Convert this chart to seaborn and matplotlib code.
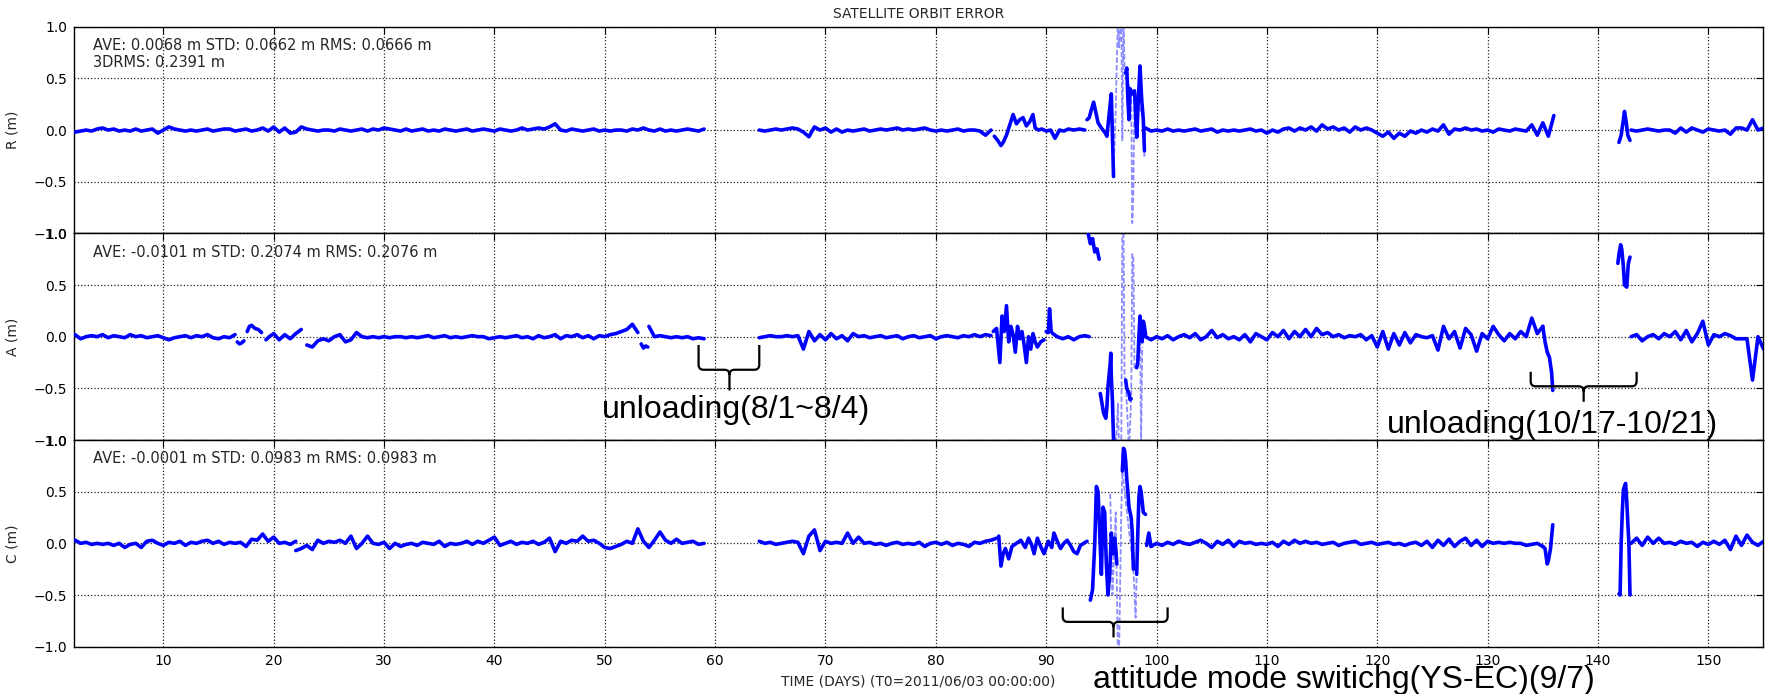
import numpy as np
import pandas as pd
import matplotlib
matplotlib.use("Agg")
import matplotlib.pyplot as plt
import matplotlib.transforms as mtransforms
from matplotlib.path import Path
from matplotlib.patches import PathPatch
import seaborn as sns

sns.set_theme(style="white")
plt.rcParams["font.family"] = ["DejaVu Sans"]
plt.rcParams["axes.unicode_minus"] = True

STEP = 0.5  # sampling step (days) of the regular runs

# ---------------- R component ----------------
R_run1_t0 = 2.0
R_run1 = [-0.02, -0.01, 0.00, -0.01, 0.01, 0.02, 0.00, 0.01, -0.01, 0.00,
          -0.01, 0.01, -0.01, 0.00, 0.01, -0.03, 0.00, 0.03, 0.01, 0.00,
          -0.01, 0.00, -0.01, 0.00, 0.01, -0.01, 0.00, 0.01, 0.01, -0.01,
          0.00, 0.01, -0.01, 0.00, 0.02, -0.01, 0.03, -0.02, 0.02, -0.03,
          -0.02, 0.03, 0.01, 0.00, -0.01, 0.00, 0.00, -0.01, 0.01, 0.00,
          -0.01, 0.00, 0.01, -0.01, 0.01, 0.00, 0.02, 0.01, 0.00, -0.01,
          0.01, -0.01, 0.00, 0.01, -0.01, 0.00, -0.01, 0.01, 0.00, -0.01,
          0.00, 0.01, -0.01, 0.00, 0.01, 0.00, -0.01, 0.01, 0.00, -0.01,
          0.00, 0.02, 0.00, 0.01, 0.02, 0.01, 0.03, 0.06, 0.00, -0.01,
          0.01, 0.00, -0.01, 0.00, 0.01, -0.01, 0.00, -0.01, 0.00, 0.00,
          -0.01, 0.01, 0.00, 0.02, 0.00, -0.01, 0.01, -0.01, 0.00, -0.01,
          0.00, 0.01, 0.00, -0.01, 0.01]
R_run2_t0 = 64.0
R_run2 = [0.00, -0.01, 0.00, 0.01, 0.00, 0.01, 0.02, 0.01, -0.02, -0.065,
          0.03, 0.00, 0.02, -0.02, 0.01, -0.02, 0.00, -0.01, 0.00, 0.01,
          -0.01, 0.00, 0.01, 0.00, 0.01, 0.02, 0.00, 0.01, 0.00, 0.01,
          0.02, 0.00, -0.01, 0.00, -0.01, 0.00, 0.01, -0.01, 0.00, 0.00,
          -0.01, -0.05, 0.00]
R_b1_t = [85.3, 85.6, 85.9, 86.1, 86.4, 86.7, 87.0, 87.3, 87.6, 87.9, 88.2, 88.5, 88.8,
          89.0, 89.3, 89.6, 90.0, 90.4, 90.8, 91.2, 91.6, 92.0, 92.5, 93.0, 93.5]
R_b1_v = [-0.06, -0.10, -0.15, -0.12, -0.05, 0.05, 0.15, 0.06, 0.10, 0.12, 0.04, 0.08, 0.15,
          0.02, 0.00, 0.01, -0.01, 0.00, -0.08, 0.00, -0.01, 0.01, 0.00, 0.01, 0.00]
R_b2_t = [93.7, 93.9, 94.1, 94.3, 94.5, 94.7, 95.0, 95.3, 95.5, 95.7, 95.9, 96.1]
R_b2_v = [0.10, 0.12, 0.20, 0.27, 0.17, 0.07, 0.02, -0.02, -0.06, 0.15, 0.35, -0.45]
R_b3_t = [97.2, 97.3, 97.4, 97.5, 97.6, 97.8, 98.0, 98.2, 98.35, 98.5, 98.65, 98.8, 98.9]
R_b3_v = [0.55, 0.60, 0.30, 0.10, 0.40, 0.35, 0.38, -0.07, 0.30, 0.62, 0.30, 0.10, -0.20]
R_light_t = [96.1, 96.3, 96.5, 96.6, 96.8, 96.9, 97.0, 97.1, 97.2, 97.7, 97.8, 97.9, 98.0,
             98.8, 98.9, 99.0]
R_light_v = [-0.45, 0.20, 1.10, 0.80, 1.10, -0.10, 1.10, 0.60, 0.55, 0.35, -0.90, -0.60, 0.38,
             0.10, -0.25, 0.02]
R_run3_t0 = 99.0
R_run3 = [0.02, -0.01, 0.00, -0.01, 0.01, -0.01, 0.00, -0.01, 0.00, 0.01,
          -0.01, 0.00, 0.01, -0.02, 0.00, -0.01, 0.00, -0.01, 0.00, 0.01,
          -0.01, 0.00, -0.03, 0.00, -0.02, 0.01, 0.02, -0.01, 0.02, 0.00,
          0.03, -0.01, 0.05, 0.01, 0.03, 0.00, 0.02, -0.02, 0.03, 0.00,
          0.02, 0.00, -0.03, -0.06, -0.02, -0.08, -0.03, -0.06, -0.01, -0.03,
          0.00, -0.02, 0.01, -0.01, 0.05, -0.04, 0.01, 0.00, 0.02, 0.00,
          0.01, -0.01, 0.00, -0.02, 0.01, 0.00, -0.01, 0.01, 0.00, -0.01,
          0.05, -0.05, 0.07, -0.06, 0.14]
R_blob_t = [141.9, 142.1, 142.3, 142.4, 142.55, 142.7, 142.9]
R_blob_v = [-0.12, -0.05, 0.10, 0.18, 0.08, -0.05, -0.10]
R_run4_t0 = 143.0
R_run4 = [0.00, -0.01, 0.00, 0.01, 0.00, -0.01, 0.00, 0.00, -0.03, 0.02,
          -0.02, 0.02, 0.00, -0.02, 0.01, 0.00, -0.01, 0.00, -0.04, 0.02,
          0.02, 0.00, 0.10, 0.00, 0.02]

# ---------------- A component ----------------
A_run1_t0 = 2.0
A_run1 = [0.02, -0.02, 0.00, 0.01, 0.00, 0.02, -0.01, 0.01, 0.00, -0.01,
          0.02, 0.00, 0.01, -0.01, 0.00, 0.01, -0.01, -0.03, -0.01, 0.00,
          0.01, -0.01, 0.01, 0.00, 0.02, -0.01, -0.02, 0.00, -0.01, 0.02]
A_s1_t = [16.7, 16.9, 17.1, 17.3]
A_s1_v = [-0.05, -0.07, -0.06, -0.04]
A_s2_t = [17.6, 17.8, 18.0, 18.3, 18.6, 18.9]
A_s2_v = [0.05, 0.10, 0.11, 0.08, 0.07, 0.04]
A_s3_t = [19.3, 19.6, 20.0, 20.5, 21.0, 21.5, 22.0, 22.5]
A_s3_v = [-0.03, 0.00, 0.03, -0.03, 0.02, -0.02, 0.03, 0.07]
A_run2_t0 = 23.0
A_run2 = [-0.08, -0.10, -0.04, -0.02, -0.04, 0.00, 0.02, -0.05, -0.03, 0.04,
          0.00, -0.01, 0.00, -0.01, 0.00, -0.01, 0.00, 0.00, -0.01, 0.00,
          -0.01, 0.00, 0.01, -0.01, 0.00, 0.01, -0.01, 0.00, -0.01, 0.00,
          0.01, 0.00, 0.00, -0.02, -0.01, 0.00, -0.01, 0.00, 0.01, -0.01,
          0.00, -0.02, 0.01, -0.01, 0.00, 0.02, -0.02, 0.01, 0.00, 0.02,
          -0.01, 0.01, -0.02, 0.01, 0.00, 0.02, 0.03, 0.05, 0.07, 0.12,
          0.04]
A_s4_t = [53.3, 53.5, 53.7, 53.9]
A_s4_v = [-0.07, -0.11, -0.09, -0.10]
A_run3_t0 = 54.0
A_run3 = [0.10, 0.00, 0.01, 0.00, -0.01, 0.00, -0.01, 0.00, -0.02, -0.01, -0.02]
A_run4_t0 = 64.0
A_run4 = [-0.01, 0.00, 0.01, 0.00, 0.00, 0.01, 0.00, 0.01, -0.12, 0.05,
          -0.04, 0.02, -0.03, 0.03, -0.02, 0.01, -0.04, 0.03, 0.00, 0.01,
          -0.01, 0.00, 0.01, -0.01, 0.00, 0.01, -0.02, 0.00, 0.01, -0.01,
          0.00, 0.01, -0.02, 0.00, 0.01, 0.00, -0.01, 0.01, 0.00, 0.02,
          0.00, 0.02, 0.01]
A_b1_t = [85.2, 85.5, 85.8, 86.0, 86.2, 86.4, 86.6, 86.8, 87.0, 87.2, 87.4, 87.6, 87.8,
          88.0, 88.2, 88.4, 88.6, 88.8, 89.0, 89.2, 89.5, 89.8]
A_b1_v = [0.05, 0.08, -0.25, 0.20, 0.05, 0.30, -0.05, 0.10, 0.02, -0.15, 0.10, -0.02, 0.05,
          -0.08, -0.25, 0.00, -0.12, 0.03, -0.05, -0.10, -0.05, -0.03]
A_s5_t = [90.0, 90.2, 90.3, 90.45, 90.6, 91.0, 91.5, 92.0, 92.5, 93.0, 93.5, 93.9]
A_s5_v = [0.05, 0.04, 0.27, 0.05, 0.03, 0.00, -0.02, 0.00, -0.03, 0.00, 0.01, 0.00]
A_top_t = [93.8, 94.0, 94.2, 94.4, 94.6, 94.8]
A_top_v = [1.00, 0.90, 0.95, 0.82, 0.85, 0.75]
A_d1_t = [94.9, 95.0, 95.2, 95.4, 95.5, 95.6, 95.8, 95.85, 95.9, 96.0, 96.1]
A_d1_v = [-0.55, -0.61, -0.74, -0.79, -0.68, -0.48, -0.26, -0.16, -0.39, -0.61, -1.00]
A_d2_t = [97.2, 97.3, 97.5, 97.6, 97.7]
A_d2_v = [-0.42, -0.50, -0.55, -0.61, -0.60]
A_d3_t = [98.2, 98.3, 98.4, 98.5, 98.6, 98.7, 98.8, 98.9, 99.0]
A_d3_v = [-0.30, -0.25, 0.00, 0.20, 0.05, -0.05, 0.15, 0.10, 0.02]
A_light_t = [96.2, 96.3, 96.5, 96.6, 96.8, 96.9, 97.0, 97.1, 97.2, 97.5, 97.7, 97.8, 97.9,
             98.0, 98.2, 98.5, 98.6, 98.7]
A_light_v = [-0.95, -1.10, -0.65, -1.10, -1.10, 1.10, 1.10, -0.40, -0.42, -1.10, -0.60, 0.80,
             0.75, -0.30, -0.30, 0.20, -1.10, -0.10]
A_run5_t0 = 99.0
A_run5 = [0.00, -0.03, 0.00, -0.02, 0.01, -0.03, 0.00, 0.02, -0.01, 0.03,
          -0.03, 0.00, 0.06, -0.01, 0.02, -0.02, 0.00, -0.03, 0.02, -0.05,
          0.03, 0.00, -0.03, 0.04, 0.00, 0.06, -0.02, 0.05, 0.00, 0.07,
          0.00, 0.08, 0.02, 0.04, 0.00, 0.02, -0.01, 0.01, 0.00, 0.02,
          -0.03, 0.01, -0.10, 0.05, -0.12, 0.03, -0.08, 0.04, -0.06, 0.02,
          0.00, -0.01, 0.01, -0.13, 0.10, -0.02, 0.05, -0.11, 0.08, 0.02,
          -0.14, 0.03, -0.02, 0.10, 0.02, -0.04, 0.03, -0.02, 0.05, 0.00,
          0.18, 0.03, 0.10]
A_drop_t = [135.0, 135.2, 135.4, 135.6, 135.8, 135.9]
A_drop_v = [0.10, -0.05, -0.15, -0.20, -0.35, -0.52]
A_blob_t = [141.8, 141.9, 142.05, 142.15, 142.3, 142.4, 142.6, 142.75, 142.9]
A_blob_v = [0.71, 0.80, 0.89, 0.85, 0.68, 0.50, 0.48, 0.71, 0.77]
A_run6_t0 = 143.0
A_run6 = [0.00, 0.02, -0.04, 0.00, 0.02, -0.02, 0.03, 0.00, 0.05, -0.03,
          0.06, -0.05, 0.03, 0.15, -0.08, 0.02, 0.00, 0.03, 0.01, -0.02,
          -0.02, -0.02, -0.42, 0.00, -0.12]

# ---------------- C component ----------------
C_run1_t0 = 2.0
C_run1 = [0.03, 0.00, 0.01, -0.01, 0.00, -0.01, 0.00, -0.02, 0.00, -0.04,
          -0.01, 0.00, -0.04, 0.02, 0.03, 0.00, -0.02, 0.01, 0.00, 0.02,
          -0.02, 0.01, 0.00, 0.02, 0.03, 0.00, 0.02, -0.01, 0.01, 0.00,
          0.01, -0.03, 0.04, 0.03, 0.09, 0.02, 0.06, 0.00, 0.01, -0.01,
          0.02]
C_run2_t0 = 22.0
C_run2 = [-0.07, -0.05, -0.02, -0.06, 0.03, 0.00, 0.02, 0.01, 0.03, 0.00,
          0.07, -0.05, 0.00, 0.07, 0.00, -0.01, 0.01, -0.05, 0.00, -0.03,
          -0.01, 0.00, -0.02, 0.01, 0.00, -0.01, 0.02, -0.03, 0.00, -0.01,
          0.00, 0.02, -0.01, 0.02, 0.00, 0.03, 0.06, -0.02, 0.00, 0.02,
          -0.01, 0.01, 0.00, 0.02, -0.01, 0.01, 0.05, -0.08, 0.02, 0.00,
          0.03, 0.02, 0.07, 0.02, 0.03, 0.00, -0.04, -0.05, -0.03, -0.01,
          0.02, 0.00, 0.14, 0.02, -0.04, 0.03, 0.11, 0.03, 0.00, 0.04,
          0.00, 0.01, 0.02, -0.01, 0.00]
C_run3_t0 = 64.0
C_run3 = [0.02, 0.00, 0.01, -0.01, 0.00, 0.01, 0.02, 0.01, -0.10, 0.07,
          0.13, -0.07, 0.02, 0.00, 0.01, 0.00, 0.10, 0.00, 0.06, 0.00,
          0.01, -0.01, 0.00, -0.02, 0.00, 0.01, -0.01, 0.00, -0.01, 0.01,
          -0.03, 0.00, 0.01, -0.01, 0.01, -0.02, 0.00, -0.01, -0.03, 0.01,
          0.00, 0.02, 0.03, 0.05]
C_b1_t = [85.7, 85.9, 86.1, 86.3, 86.6, 86.9, 87.3, 87.7, 88.1, 88.4, 88.7, 88.9, 89.2,
          89.5, 89.8, 90.2, 90.5, 90.7, 91.0, 91.3, 91.6, 91.9, 92.2, 92.5, 92.8, 93.1,
          93.4, 93.7]
C_b1_v = [0.07, -0.22, -0.10, -0.05, -0.15, -0.03, 0.00, 0.03, -0.04, 0.05, -0.02, -0.10,
          0.05, -0.03, -0.10, 0.02, -0.04, 0.10, 0.02, -0.05, 0.00, 0.03, -0.02, -0.08,
          -0.10, -0.02, 0.00, 0.02]
C_d1_t = [94.0, 94.1, 94.2, 94.4, 94.55, 94.7, 94.85, 95.0, 95.15, 95.3, 95.45, 95.6,
          95.75, 95.9, 96.05, 96.2, 96.3, 96.4]
C_d1_v = [-0.55, -0.50, -0.45, 0.00, 0.55, 0.50, 0.10, -0.30, 0.35, 0.30, -0.20, -0.50,
          -0.30, 0.10, -0.10, 0.05, -0.05, -0.20]
C_d2_t = [96.9, 97.0, 97.1, 97.2, 97.3, 97.4, 97.5, 97.6, 97.7, 97.8, 97.9]
C_d2_v = [0.70, 0.92, 0.90, 0.80, 0.62, 0.50, 0.35, 0.30, 0.25, 0.10, -0.25]
C_d3_t = [98.2, 98.3, 98.4, 98.5, 98.6, 98.8, 99.0]
C_d3_v = [-0.30, 0.10, 0.45, 0.55, 0.50, 0.30, 0.28]
C_light_t = [95.8, 96.0, 96.3, 96.5, 96.6, 96.8, 96.9, 97.9, 98.1, 98.2]
C_light_v = [0.48, -0.50, 0.30, -1.10, -1.10, 0.30, 0.70, -0.25, -0.72, -0.30]
C_s1_t = [99.1, 99.3, 99.5]
C_s1_v = [-0.02, 0.10, -0.03]
C_run4_t0 = 99.5
C_run4 = [-0.03,
          0.00, -0.02, 0.01, -0.01, 0.02, 0.00, -0.01, 0.01, 0.03, 0.00,
          -0.04, 0.02, -0.01, 0.03, -0.03, 0.02, 0.00, 0.01, -0.01, 0.00,
          -0.01, 0.01, -0.03, 0.02, -0.01, 0.03, 0.00, 0.02, 0.00, 0.01,
          -0.01, 0.00, 0.01, -0.02, 0.00, 0.01, 0.02, -0.01, 0.00, 0.01,
          -0.01, 0.00, 0.01, -0.01, 0.00, -0.02, 0.00, 0.01, -0.02, 0.02,
          -0.04, 0.03, -0.02, 0.04, -0.03, 0.02, 0.05, -0.02, 0.03, -0.03,
          0.02, 0.00, 0.01, 0.00, 0.01, 0.00, 0.00, -0.02, -0.01, 0.00,
          -0.03]
C_end_t = [135.0, 135.2, 135.4, 135.5, 135.7, 135.9]
C_end_v = [-0.03, -0.05, -0.20, -0.17, -0.05, 0.18]
C_blob_t = [141.9, 142.0, 142.1, 142.2, 142.3, 142.5, 142.6, 142.7, 142.8, 142.9]
C_blob_v = [-0.49, -0.50, 0.00, 0.30, 0.52, 0.58, 0.42, 0.20, 0.00, -0.50]
C_run5_t0 = 143.0
C_run5 = [0.00, 0.05, -0.02, 0.06, 0.00, 0.05, 0.00, 0.01, -0.01, 0.02,
          0.00, 0.01, -0.03, 0.01, -0.01, 0.02, -0.01, 0.03, -0.06, 0.07,
          -0.02, 0.08, 0.01, -0.02, 0.02]

# ---------------- texts ----------------
TITLE = "SATELLITE ORBIT ERROR"
XLABEL = "TIME (DAYS) (T0=2011/06/03 00:00:00)"
YLABELS = ["R (m)", "A (m)", "C (m)"]
STATS = ["AVE: 0.0068 m STD: 0.0662 m RMS: 0.0666 m\n3DRMS: 0.2391 m",
         "AVE: -0.0101 m STD: 0.2074 m RMS: 0.2076 m",
         "AVE: -0.0001 m STD: 0.0983 m RMS: 0.0983 m"]
NOTE1 = "unloading(8/1~8/4)"
NOTE2 = "unloading(10/17-10/21)"
NOTE3 = "attitude mode switichg(YS-EC)(9/7)"


def run(t0, vals):
    return list(t0 + STEP * np.arange(len(vals))), list(vals)


def frame(segs):
    rows = []
    for k, (t, v) in enumerate(segs):
        for ti, vi in zip(t, v):
            rows.append((k, float(ti), float(vi)))
    return pd.DataFrame(rows, columns=["seg", "t", "v"])


R_dark = frame([run(R_run1_t0, R_run1), run(R_run2_t0, R_run2), (R_b1_t, R_b1_v),
                (R_b2_t, R_b2_v), (R_b3_t, R_b3_v), run(R_run3_t0, R_run3),
                (R_blob_t, R_blob_v), run(R_run4_t0, R_run4)])
R_pale = frame([(R_light_t, R_light_v)])
A_dark = frame([run(A_run1_t0, A_run1), (A_s1_t, A_s1_v), (A_s2_t, A_s2_v), (A_s3_t, A_s3_v),
                run(A_run2_t0, A_run2), (A_s4_t, A_s4_v), run(A_run3_t0, A_run3),
                run(A_run4_t0, A_run4), (A_b1_t, A_b1_v), (A_s5_t, A_s5_v),
                (A_top_t, A_top_v), (A_d1_t, A_d1_v), (A_d2_t, A_d2_v), (A_d3_t, A_d3_v),
                run(A_run5_t0, A_run5), (A_drop_t, A_drop_v), (A_blob_t, A_blob_v),
                run(A_run6_t0, A_run6)])
A_pale = frame([(A_light_t, A_light_v)])
C_dark = frame([run(C_run1_t0, C_run1), run(C_run2_t0, C_run2), run(C_run3_t0, C_run3),
                (C_b1_t, C_b1_v), (C_d1_t, C_d1_v), (C_d2_t, C_d2_v), (C_d3_t, C_d3_v),
                (C_s1_t, C_s1_v), run(C_run4_t0, C_run4), (C_end_t, C_end_v),
                (C_blob_t, C_blob_v), run(C_run5_t0, C_run5)])
C_pale = frame([(C_light_t, C_light_v)])

fig, axes = plt.subplots(3, 1, figsize=(17.69, 6.94), dpi=100, sharex=True)
fig.subplots_adjust(left=0.0418, right=0.9966, top=0.9615, bottom=0.0682, hspace=0)

for ax, dark, pale, ylab, stats in zip(axes, [R_dark, A_dark, C_dark],
                                       [R_pale, A_pale, C_pale], YLABELS, STATS):
    ax.set_facecolor("white")
    sns.lineplot(data=pale, x="t", y="v", units="seg", estimator=None, sort=False,
                 color="#8c8cff", linewidth=1.3, linestyle=(0, (3, 1.2)), ax=ax, zorder=2)
    sns.lineplot(data=dark, x="t", y="v", units="seg", estimator=None, sort=False,
                 color="#0000ff", linewidth=2.6, ax=ax, zorder=3)
    ax.set_xlim(1.9, 154.95)
    ax.set_ylim(-1, 1)
    ax.set_yticks([-1.0, -0.5, 0.0, 0.5, 1.0])
    ax.set_xticks(np.arange(10, 151, 10))
    ax.grid(True, linestyle=":", color="#222222", linewidth=0.9)
    ax.tick_params(direction="in", top=True, right=True, length=5, width=0.8,
                   labelsize=10, colors="black", pad=5)
    for sp in ax.spines.values():
        sp.set_color("black")
        sp.set_linewidth(1.0)
    ax.set_xlabel("")
    ax.set_ylabel(ylab, fontsize=10)
    ax.yaxis.set_label_coords(-0.0325, 0.5)
    ax.text(0.0113, 0.945, stats, transform=ax.transAxes, va="top", ha="left",
            fontsize=10.5, linespacing=1.15)

axes[0].set_title(TITLE, fontsize=10, pad=6)
axes[2].set_xlabel(XLABEL, fontsize=10, labelpad=5)
for ax in axes[:2]:
    ax.tick_params(labelbottom=False)


def brace(ax, x0, x1, xm, ytop, yline, ytip, rx=0.45, ry=0.05):
    verts = [(x0, ytop), (x0, yline + ry), (x0, yline), (x0 + rx, yline),
             (xm - rx, yline), (xm, yline), (xm, yline - ry), (xm, ytip),
             (xm, yline - ry), (xm, yline), (xm + rx, yline),
             (x1 - rx, yline), (x1, yline), (x1, yline + ry), (x1, ytop)]
    codes = [Path.MOVETO, Path.LINETO, Path.CURVE3, Path.CURVE3,
             Path.LINETO, Path.CURVE3, Path.CURVE3, Path.LINETO,
             Path.MOVETO, Path.CURVE3, Path.CURVE3,
             Path.LINETO, Path.CURVE3, Path.CURVE3, Path.LINETO]
    ax.add_patch(PathPatch(Path(verts, codes), fill=False, edgecolor="black",
                           linewidth=1.6, clip_on=False, zorder=5))


big = dict(fontsize=23, family=["Liberation Sans", "DejaVu Sans"], color="black",
           ha="center", va="baseline", zorder=6, clip_on=False)

brace(axes[1], 58.5, 64.0, 61.3, -0.08, -0.32, -0.52)
axes[1].text(61.9, -0.79, NOTE1, **big)
brace(axes[1], 133.9, 143.5, 138.7, -0.34, -0.48, -0.63)
axes[1].text(135.9, -0.93, NOTE2, **big)
brace(axes[2], 91.5, 101.0, 96.1, -0.62, -0.76, -0.91)
trans = mtransforms.blended_transform_factory(axes[2].transData, fig.transFigure)
axes[2].text(117.0, 0.008, NOTE3, transform=trans, **big)

fig.savefig("out.png", dpi=100, facecolor="white")
